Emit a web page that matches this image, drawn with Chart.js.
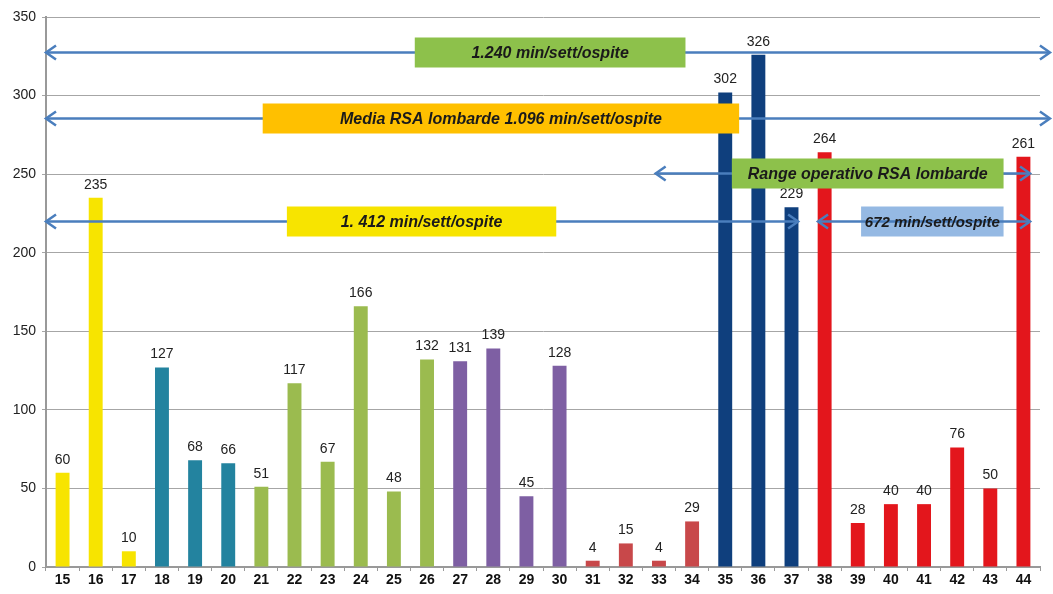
<!DOCTYPE html>
<html lang="it">
<head>
<meta charset="UTF-8">
<title>Minuti settimanali per ospite</title>
<script src="https://cdn.jsdelivr.net/npm/chart.js@4/dist/chart.umd.min.js"></script>
<style>
  body { margin: 0; background: #fff; }
  #wrap { width: 1053px; height: 594px; }
</style>
</head>
<body>
<div id="wrap"><canvas id="myChart"></canvas></div>
<script>
// categories and values
const categories = ['15','16','17','18','19','20','21','22','23','24','25','26','27','28','29','30',
                    '31','32','33','34','35','36','37','38','39','40','41','42','43','44'];
const values = [60, 235, 10, 127, 68, 66, 51, 117, 67, 166, 48, 132, 131, 139, 45, 128,
                4, 15, 4, 29, 302, 326, 229, 264, 28, 40, 40, 76, 50, 261];
const yTicks = [0, 50, 100, 150, 200, 250, 300, 350];

// colour groups of the bars
const groupColors = [
  ['#f7e400', 3], ['#23839f', 3], ['#9bbb4f', 6], ['#7e5fa3', 4],
  ['#c8484a', 4], ['#0f3f7d', 3], ['#e3161c', 7]
];
const barColors = [];
groupColors.forEach(([c, n]) => { for (let i = 0; i < n; i++) barColors.push(c); });

// arrows with boxes: y in data units, x in category index
const notes = [
  { text: '1.240 min/sett/ospite', y: 328, from: -0.5, to: 29.8, box: [10.63, 18.8], fill: '#8dc14b', size: 16 },
  { text: 'Media RSA lombarde 1.096 min/sett/ospite', y: 286, from: -0.5, to: 29.8, box: [6.04, 20.42], fill: '#ffc000', size: 16 },
  { text: 'Range operativo RSA lombarde', y: 251, from: 17.9, to: 29.2, box: [20.2, 28.4], fill: '#8dc14b', size: 16 },
  { text: '1. 412 min/sett/ospite', y: 220, from: -0.5, to: 22.2, box: [6.77, 14.9], fill: '#f7e400', size: 16 },
  { text: '672 min/sett/ospite', y: 220, from: 22.8, to: 29.2, box: [24.1, 28.4], fill: '#95b9e3', lineOver: true, size: 15 }
];

const arrowColor = '#4a7ebd';

function drawArrowHead(ctx, x, y, dir) {
  ctx.beginPath();
  ctx.moveTo(x + dir * -10, y - 7);
  ctx.lineTo(x, y);
  ctx.lineTo(x + dir * -10, y + 7);
  ctx.stroke();
}

const notesPlugin = {
  id: 'notes',
  afterDatasetsDraw(chart) {
    const ctx = chart.ctx;
    const xs = chart.scales.x, ys = chart.scales.y;
    // value labels on top of bars
    ctx.save();
    ctx.font = '14px "Liberation Sans", Arial, sans-serif';
    ctx.fillStyle = '#222';
    ctx.textAlign = 'center';
    ctx.textBaseline = 'bottom';
    const meta = chart.getDatasetMeta(0);
    meta.data.forEach((bar, i) => {
      ctx.fillText(values[i], bar.x, bar.y - 6);
    });
    ctx.restore();

    notes.forEach(n => {
      const py = Math.round(ys.getPixelForValue(n.y)) + 0.5;
      const x1 = xs.getPixelForValue(n.from), x2 = xs.getPixelForValue(n.to);
      const b1 = xs.getPixelForValue(n.box[0]), b2 = xs.getPixelForValue(n.box[1]);
      ctx.save();
      ctx.strokeStyle = arrowColor;
      ctx.lineWidth = 2.5;
      const drawLine = () => {
        ctx.beginPath();
        ctx.moveTo(x1, py);
        ctx.lineTo(x2, py);
        ctx.stroke();
        drawArrowHead(ctx, x1, py, -1);
        drawArrowHead(ctx, x2, py, 1);
      };
      if (!n.lineOver) drawLine();
      ctx.fillStyle = n.fill;
      ctx.fillRect(b1, py - 15, b2 - b1, 30);
      if (n.lineOver) drawLine();
      ctx.fillStyle = '#1a1a1a';
      ctx.font = 'italic bold ' + n.size + 'px "Liberation Sans", Arial, sans-serif';
      ctx.textAlign = 'center';
      ctx.textBaseline = 'middle';
      ctx.fillText(n.text, (b1 + b2) / 2, py + 1);
      ctx.restore();
    });
  }
};

const chart = new Chart(document.getElementById('myChart'), {
  type: 'bar',
  data: {
    labels: categories,
    datasets: [{
      data: values,
      backgroundColor: barColors,
      barPercentage: 0.84,
      categoryPercentage: 0.5
    }]
  },
  options: {
    responsive: true,
    maintainAspectRatio: false,
    animation: false,
    layout: { padding: { top: 17, right: 13, left: 0, bottom: 0 } },
    plugins: { legend: { display: false }, tooltip: { enabled: false } },
    scales: {
      x: {
        offset: true,
        grid: { display: true, drawOnChartArea: false, offset: true, tickLength: 4, color: '#999' },
        border: { color: '#999', width: 2 },
        ticks: { color: '#111', font: { family: '"Liberation Sans", Arial', size: 14, weight: 'bold' }, padding: 1, maxRotation: 0 },
        afterFit(scale) { scale.height = 27; }
      },
      y: {
        min: 0,
        max: 350,
        afterBuildTicks(scale) { scale.ticks = yTicks.map(v => ({ value: v })); },
        grid: { color: '#a6a6a6', lineWidth: 1, tickLength: 4 },
        border: { color: '#999', width: 2 },
        ticks: { color: '#222', font: { family: '"Liberation Sans", Arial', size: 14 }, padding: 6 },
        afterFit(scale) { scale.width = 46; }
      }
    }
  },
  plugins: [notesPlugin]
});
</script>
</body>
</html>
